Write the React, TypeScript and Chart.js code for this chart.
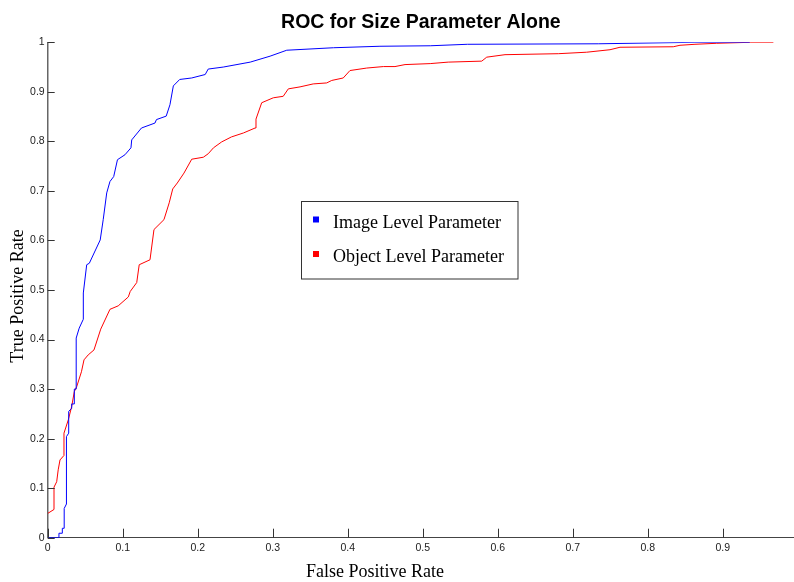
import React, { useEffect, useRef } from "react";
import { Chart, registerables } from "chart.js";

Chart.register(...registerables);

const TITLE = "ROC for Size Parameter Alone";
const X_LABEL = "False Positive Rate";
const Y_LABEL = "True Positive Rate";

const SERIES_NAMES = ["Image Level Parameter", "Object Level Parameter"];
const SERIES_COLORS = ["#0000FF", "#FF0000"];

const X_TICKS = [0, 0.1, 0.2, 0.3, 0.4, 0.5, 0.6, 0.7, 0.8, 0.9];
const Y_TICKS = [0, 0.1, 0.2, 0.3, 0.4, 0.5, 0.6, 0.7, 0.8, 0.9, 1];

const imageFpr = [
  0, 0.015, 0.015, 0.0195, 0.0195, 0.022, 0.022, 0.025, 0.025, 0.028, 0.028, 0.032, 0.032,
  0.0355, 0.0355, 0.038, 0.038, 0.042, 0.0475, 0.0475, 0.052, 0.0555, 0.07, 0.074, 0.0787,
  0.083, 0.088, 0.093, 0.103, 0.111, 0.112, 0.125, 0.143, 0.145, 0.158, 0.163, 0.1675, 0.176,
  0.192, 0.21, 0.214, 0.234, 0.27, 0.2965, 0.3187, 0.381, 0.443, 0.51, 0.5595, 0.734, 0.863,
  0.936,
];
const imageTpr = [
  0, 0, 0.009, 0.009, 0.019, 0.019, 0.059, 0.068, 0.204, 0.211, 0.255, 0.261, 0.27, 0.27, 0.3,
  0.3, 0.403, 0.423, 0.441, 0.494, 0.551, 0.554, 0.601, 0.642, 0.696, 0.719, 0.729, 0.763,
  0.773, 0.787, 0.803, 0.827, 0.837, 0.844, 0.851, 0.874, 0.912, 0.925, 0.928, 0.935, 0.946,
  0.95, 0.96, 0.972, 0.984, 0.989, 0.992, 0.993, 0.996, 0.997, 1.0, 1.0,
];

const objectFpr = [
  0, 0.0084, 0.0084, 0.012, 0.014, 0.0164, 0.0217, 0.0217, 0.0275, 0.032, 0.0355, 0.0387,
  0.045, 0.0484, 0.054, 0.0617, 0.0707, 0.083, 0.094, 0.1075, 0.11, 0.1187, 0.122, 0.1364,
  0.1417, 0.155, 0.162, 0.1667, 0.1728, 0.1817, 0.192, 0.2075, 0.214, 0.221, 0.232, 0.245,
  0.261, 0.2765, 0.2777, 0.2853, 0.3008, 0.314, 0.3208, 0.3364, 0.354, 0.372, 0.3787, 0.394,
  0.403, 0.4253, 0.4475, 0.463, 0.4764, 0.51, 0.534, 0.5787, 0.5853, 0.6097, 0.6808, 0.7186,
  0.7497, 0.763, 0.834, 0.843, 0.863, 0.892, 0.9364, 0.9675,
];
const objectTpr = [
  0.049, 0.057, 0.102, 0.113, 0.137, 0.157, 0.166, 0.211, 0.238, 0.265, 0.295, 0.305, 0.335,
  0.359, 0.369, 0.379, 0.421, 0.461, 0.468, 0.486, 0.497, 0.515, 0.551, 0.561, 0.622, 0.642,
  0.676, 0.704, 0.716, 0.736, 0.764, 0.768, 0.775, 0.787, 0.799, 0.809, 0.817, 0.827, 0.845,
  0.878, 0.888, 0.891, 0.906, 0.91, 0.916, 0.918, 0.923, 0.928, 0.943, 0.948, 0.951, 0.951,
  0.955, 0.957, 0.96, 0.962, 0.97, 0.975, 0.977, 0.98, 0.985, 0.99, 0.991, 0.994, 0.996,
  0.998, 1.0, 1.0,
];

const W = 794;
const H = 582;

const toPoints = (xs: number[], ys: number[]) => xs.map((x, i) => ({ x, y: ys[i] }));

const decorations = {
  id: "decorations",
  afterDraw(chart: any) {
    const { ctx, chartArea, scales } = chart;
    const xs = scales.x;
    const ys = scales.y;
    ctx.save();
    ctx.strokeStyle = "#333";
    ctx.lineWidth = 1;
    ctx.beginPath();
    X_TICKS.forEach((v) => {
      const px = Math.round(xs.getPixelForValue(v)) + 0.5;
      ctx.moveTo(px, chartArea.bottom);
      ctx.lineTo(px, chartArea.bottom - 9);
    });
    Y_TICKS.forEach((v) => {
      const py = Math.round(ys.getPixelForValue(v)) + 0.5;
      ctx.moveTo(chartArea.left, py);
      ctx.lineTo(chartArea.left + 7, py);
    });
    ctx.stroke();

    // axis titles
    ctx.fillStyle = "#000";
    ctx.font = "18px 'Liberation Serif'";
    ctx.textAlign = "center";
    ctx.textBaseline = "middle";
    ctx.fillText(X_LABEL, 375, 572);
    ctx.save();
    ctx.translate(18, 296);
    ctx.rotate(-Math.PI / 2);
    ctx.fillText(Y_LABEL, 0, 0);
    ctx.restore();

    // legend box
    const bx = 301.5, by = 201.5, bw = 216.5, bh = 77.5;
    ctx.fillStyle = "#fff";
    ctx.fillRect(bx, by, bw, bh);
    ctx.strokeStyle = "#333";
    ctx.strokeRect(bx, by, bw, bh);
    ctx.font = "18px 'Liberation Serif'";
    ctx.textBaseline = "alphabetic";
    ctx.textAlign = "left";
    chart.data.datasets.forEach((ds: any, i: number) => {
      const baseY = 227.5 + i * 34.5;
      ctx.fillStyle = ds.borderColor;
      ctx.fillRect(313, baseY - 11, 6, 6);
      ctx.fillStyle = "#000";
      ctx.fillText(ds.label, 333, baseY);
    });
    ctx.restore();
  },
};

export default function App() {
  const ref = useRef<HTMLCanvasElement | null>(null);

  useEffect(() => {
    if (!ref.current) return;
    const chart = new Chart(ref.current, {
      type: "scatter",
      data: {
        datasets: [
          {
            label: SERIES_NAMES[0],
            data: toPoints(imageFpr, imageTpr),
            borderColor: SERIES_COLORS[0],
            backgroundColor: SERIES_COLORS[0],
            borderWidth: 1,
            showLine: true,
            pointRadius: 0,
            tension: 0,
          },
          {
            label: SERIES_NAMES[1],
            data: toPoints(objectFpr, objectTpr),
            borderColor: SERIES_COLORS[1],
            backgroundColor: SERIES_COLORS[1],
            borderWidth: 1,
            showLine: true,
            pointRadius: 0,
            tension: 0,
          },
        ],
      },
      options: {
        responsive: false,
        animation: false,
        devicePixelRatio: 1,
        events: [],
        layout: { padding: { top: 0, left: 0, right: 0, bottom: 0 } },
        plugins: {
          legend: { display: false },
          tooltip: { enabled: false },
          title: {
            display: true,
            text: TITLE,
            fullSize: false,
            color: "#000",
            font: { family: "'Liberation Sans', Arial", size: 19.5, weight: "bold" },
            padding: { top: 10.8, bottom: 8.1 },
          },
        },
        scales: {
          x: {
            type: "linear",
            min: 0,
            max: 0.995,
            afterFit: (s: any) => {
              s.height = 44.3;
            },
            grid: { display: false, drawTicks: false },
            border: { display: true, color: "#444", width: 1 },
            ticks: {
              stepSize: 0.1,
              includeBounds: false,
              padding: 4,
              color: "#222",
              font: { family: "'Liberation Sans', Arial", size: 10.5 },
              callback: (v: any) => String(Math.round(Number(v) * 10) / 10),
            },
          },
          y: {
            type: "linear",
            min: 0,
            max: 1,
            afterFit: (s: any) => {
              s.width = 47.7;
            },
            grid: { display: false, drawTicks: false },
            border: { display: true, color: "#666", width: 1.5 },
            ticks: {
              stepSize: 0.1,
              padding: 3,
              color: "#222",
              font: { family: "'Liberation Sans', Arial", size: 10.5 },
              callback: (v: any) => String(Math.round(Number(v) * 10) / 10),
            },
          },
        },
      },
      plugins: [decorations],
    } as any);
    return () => chart.destroy();
  }, []);

  return (
    <div style={{ position: "absolute", left: 0, top: 0, width: W, height: H, background: "#fff" }}>
      <canvas ref={ref} width={W} height={H} style={{ display: "block" }} />
    </div>
  );
}
